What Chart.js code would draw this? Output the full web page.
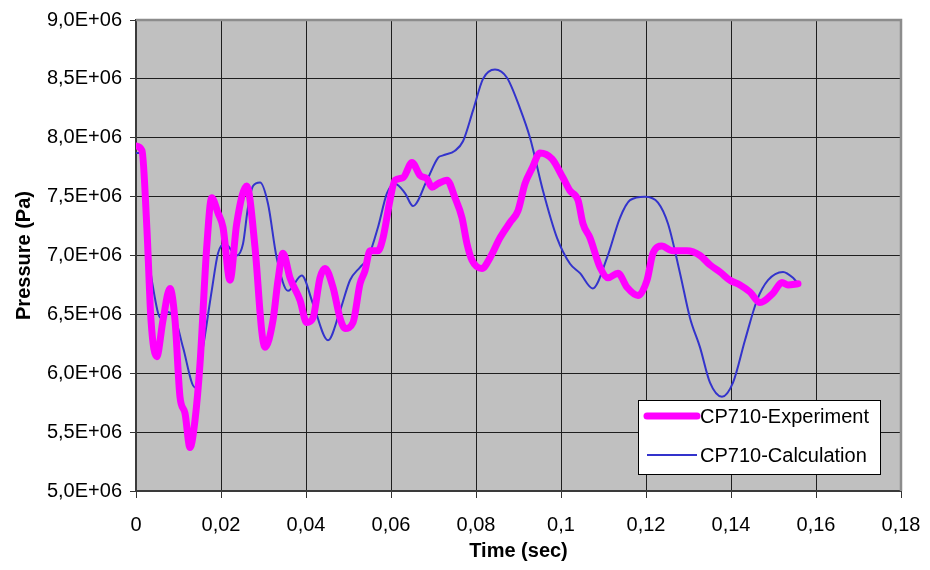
<!DOCTYPE html>
<html>
<head>
<meta charset="utf-8">
<script src="https://cdn.jsdelivr.net/npm/chart.js@4.4.1/dist/chart.umd.min.js"></script>
<style>
  html, body { margin: 0; padding: 0; background: #ffffff; }
  #wrap { width: 930px; height: 570px; }
</style>
</head>
<body>
<div id="wrap"><canvas id="chart" width="930" height="570"></canvas></div>
<script>
// Measured pressure, CP710 (time in s, pressure in MPa)
const expTime = [0, 0.00141, 0.00259, 0.00353, 0.00487, 0.00635, 0.0080, 0.00918, 0.01035, 0.01153,
  0.0127, 0.01388, 0.01506, 0.01664, 0.01781, 0.0193, 0.02047, 0.02212, 0.02369, 0.02605,
  0.028, 0.02958, 0.03035, 0.03224, 0.03341, 0.03459, 0.03624, 0.03859, 0.04016, 0.04165,
  0.04329, 0.04447, 0.04635, 0.048, 0.04918, 0.05106, 0.05271, 0.05388, 0.05506, 0.05694,
  0.05812, 0.05976, 0.06094, 0.06282, 0.06494, 0.06682, 0.06847, 0.06965, 0.07106, 0.07318,
  0.07506, 0.07671, 0.07788, 0.07906, 0.08141, 0.08329, 0.08565, 0.088, 0.08988, 0.09153,
  0.09318, 0.09506, 0.09788, 0.10047, 0.10212, 0.104, 0.10518, 0.10682, 0.10918, 0.11106,
  0.11341, 0.11553, 0.11812, 0.12024, 0.12165, 0.12376, 0.12612, 0.12965, 0.13271, 0.13506,
  0.13741, 0.13976, 0.14212, 0.14447, 0.14682, 0.14988, 0.152, 0.15341, 0.15576];
const expPressure = [7.93, 7.89, 7.21, 6.45, 6.14, 6.45, 6.72, 6.45, 5.80, 5.66,
  5.37, 5.60, 6.08, 7.07, 7.49, 7.36, 7.24, 6.79, 7.27, 7.59,
  7.07, 6.36, 6.22, 6.45, 6.79, 7.02, 6.81, 6.62, 6.43, 6.47,
  6.81, 6.89, 6.73, 6.47, 6.38, 6.43, 6.76, 6.87, 7.04, 7.04,
  7.15, 7.47, 7.64, 7.66, 7.79, 7.68, 7.65, 7.58, 7.61, 7.64,
  7.49, 7.32, 7.10, 6.96, 6.89, 6.98, 7.15, 7.28, 7.38, 7.61,
  7.74, 7.87, 7.82, 7.66, 7.55, 7.47, 7.27, 7.15, 6.90, 6.81,
  6.85, 6.73, 6.66, 6.79, 7.02, 7.08, 7.04, 7.04, 7.00, 6.92,
  6.86, 6.79, 6.75, 6.69, 6.60, 6.68, 6.77, 6.75, 6.76];

// Computed pressure, CP710
const calcTime = [0, 0.00134, 0.00252, 0.004, 0.00581, 0.00753, 0.00958, 0.01106, 0.01388, 0.01576,
  0.01781, 0.0193, 0.02094, 0.02369, 0.02518, 0.02635, 0.02753, 0.02918, 0.03106, 0.03311,
  0.03576, 0.039, 0.04165, 0.04518, 0.048, 0.05035, 0.05271, 0.05459, 0.05694, 0.05906,
  0.06094, 0.06329, 0.06518, 0.06847, 0.07106, 0.07224, 0.07506, 0.07694, 0.07929, 0.08165,
  0.08447, 0.08729, 0.09035, 0.09271, 0.09576, 0.09906, 0.10212, 0.10447, 0.10746, 0.11082,
  0.11388, 0.11624, 0.11976, 0.12282, 0.12518, 0.128, 0.13035, 0.13271, 0.13506, 0.13788,
  0.14047, 0.14329, 0.14612, 0.14871, 0.15224, 0.15459, 0.15576];
const calcPressure = [7.87, 7.87, 7.13, 6.73, 6.47, 6.52, 6.42, 6.22, 5.88, 6.22,
  6.70, 7.02, 7.10, 7.00, 7.10, 7.41, 7.59, 7.62, 7.44, 6.98,
  6.70, 6.83, 6.59, 6.28, 6.53, 6.79, 6.90, 6.98, 7.24, 7.53,
  7.61, 7.53, 7.42, 7.64, 7.83, 7.85, 7.89, 7.97, 8.23, 8.50,
  8.58, 8.51, 8.25, 8.00, 7.55, 7.15, 6.93, 6.85, 6.72, 6.98,
  7.32, 7.47, 7.50, 7.45, 7.27, 6.85, 6.47, 6.22, 5.92, 5.80,
  5.92, 6.28, 6.62, 6.79, 6.86, 6.81, 6.76];

const seriesNames = ['CP710-Experiment', 'CP710-Calculation'];
const timeTicks = [0, 0.02, 0.04, 0.06, 0.08, 0.1, 0.12, 0.14, 0.16, 0.18];

const FONT = '"Liberation Sans", Arial, sans-serif';

const toPoints = (xs, ys) => xs.map((t, i) => ({ x: t, y: ys[i] * 1e6 }));

// grey plot background plus the light frame on top and right
const plotFrame = {
  id: 'plotFrame',
  beforeDraw(chart) {
    const { ctx, chartArea: a } = chart;
    ctx.save();
    ctx.fillStyle = '#c0c0c0';
    ctx.fillRect(a.left, a.top, a.right - a.left, a.bottom - a.top);
    ctx.restore();
  },
  beforeDatasetsDraw(chart) {
    const { ctx, chartArea: a } = chart;
    ctx.save();
    ctx.strokeStyle = '#8c8c8c';
    ctx.lineWidth = 2.5;
    ctx.beginPath();
    ctx.moveTo(a.left, a.top);
    ctx.lineTo(a.right, a.top);
    ctx.lineTo(a.right, a.bottom);
    ctx.stroke();
    ctx.restore();
  }
};

// boxed legend in the lower right of the plot
const boxLegend = {
  id: 'boxLegend',
  afterDraw(chart) {
    const { ctx, chartArea: a } = chart;
    const x = a.right - 263, y = a.bottom - 91, w = 242, h = 74;
    ctx.save();
    ctx.fillStyle = '#ffffff';
    ctx.fillRect(x, y, w, h);
    ctx.strokeStyle = '#000000';
    ctx.lineWidth = 1;
    ctx.strokeRect(x + 0.5, y + 0.5, w, h);
    ctx.font = '20px ' + FONT;
    ctx.textBaseline = 'middle';
    chart.data.datasets.forEach((ds, i) => {
      const ly = y + 16 + i * 39;
      ctx.strokeStyle = ds.borderColor;
      ctx.lineWidth = ds.borderWidth;
      ctx.lineCap = i === 0 ? 'round' : 'butt';
      ctx.beginPath();
      ctx.moveTo(x + 9, ly);
      ctx.lineTo(x + 59, ly);
      ctx.stroke();
      ctx.fillStyle = '#000000';
      ctx.fillText(ds.label, x + 62, ly + 1);
    });
    ctx.restore();
  }
};

const fmtTime = v => {
  const r = Math.round(v * 100) / 100;
  return String(r).replace('.', ',');
};
const fmtPressure = v => (v / 1e6).toFixed(1).replace('.', ',') + 'E+06';

new Chart(document.getElementById('chart').getContext('2d'), {
  type: 'line',
  data: {
    datasets: [
      {
        label: seriesNames[0],
        data: toPoints(expTime, expPressure),
        borderColor: '#ff00ff',
        borderWidth: 7,
        borderCapStyle: 'round',
        borderJoinStyle: 'round',
        pointRadius: 0,
        cubicInterpolationMode: 'monotone',
        fill: false
      },
      {
        label: seriesNames[1],
        data: toPoints(calcTime, calcPressure),
        borderColor: '#3333cc',
        borderWidth: 2,
        pointRadius: 0,
        cubicInterpolationMode: 'monotone',
        fill: false
      }
    ]
  },
  options: {
    responsive: false,
    animation: false,
    layout: { padding: { top: 19, right: 29, bottom: 0, left: 0 } },
    plugins: {
      legend: { display: false },
      tooltip: { enabled: false }
    },
    scales: {
      x: {
        type: 'linear',
        min: 0,
        max: 0.18,
        afterFit: s => {
          s.height = 79;
          // keep the end labels from eating into the plot width
          s.paddingLeft = 0;
          s.paddingRight = 0;
        },
        afterBuildTicks: s => {
          s.ticks = timeTicks.map(v => ({ value: v }));
        },
        grid: { color: '#1e1e1e', lineWidth: 1, tickLength: 7, tickColor: '#333333' },
        border: { display: true, color: '#3a3a3a', width: 2 },
        ticks: {
          color: '#000000',
          font: { family: FONT, size: 20 },
          padding: 15,
          maxRotation: 0,
          autoSkip: false,
          callback: fmtTime
        },
        title: {
          display: true,
          text: 'Time (sec)',
          color: '#000000',
          font: { family: FONT, size: 20, weight: 'bold' },
          padding: { top: 0, bottom: 7 }
        }
      },
      y: {
        min: 5e6,
        max: 9e6,
        afterFit: s => { s.width = 136; },
        grid: { color: '#1e1e1e', lineWidth: 1, tickLength: 6, tickColor: '#333333' },
        border: { display: true, color: '#3a3a3a', width: 2 },
        ticks: {
          stepSize: 5e5,
          color: '#000000',
          font: { family: FONT, size: 20 },
          padding: 8,
          callback: fmtPressure
        },
        title: {
          display: true,
          text: 'Pressure (Pa)',
          color: '#000000',
          font: { family: FONT, size: 20, weight: 'bold' },
          padding: { top: 12, bottom: 0 }
        }
      }
    }
  },
  plugins: [plotFrame, boxLegend]
});
</script>
</body>
</html>
